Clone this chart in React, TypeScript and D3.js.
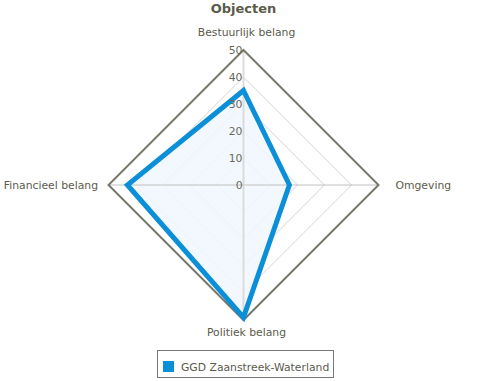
import React from "react";
import * as d3 from "d3";

const categories = ["Bestuurlijk belang", "Omgeving", "Politiek belang", "Financieel belang"];
const seriesName = "GGD Zaanstreek-Waterland";
const values = [35, 17, 49, 43];
const tickValues = [0, 10, 20, 30, 40, 50];
const title = "Objecten";

const W = 492;
const H = 381;
const cx = 243.5;
const cy = 185;
const R = 135;
const FONT = "'DejaVu Sans', Verdana, sans-serif";
const TEXT = "#5b5b4b";
const FS = 10.8;

export default function App() {
  const r = d3.scaleLinear().domain([0, 50]).range([0, R]);
  const n = categories.length;
  const angle = (i: number) => (i * 2 * Math.PI) / n;
  const pt = (i: number, v: number): [number, number] => [
    cx + r(v) * Math.sin(angle(i)),
    cy - r(v) * Math.cos(angle(i)),
  ];
  const line = d3.line<[number, number]>().curve(d3.curveLinearClosed);
  const gridPoly = (v: number) => line(categories.map((_, i) => pt(i, v))) as string;
  const dataPath = line(values.map((v, i) => pt(i, v))) as string;

  const labelPos = [
    { dx: 3, dy: -14, anchor: "middle" },
    { dx: 17, dy: 4, anchor: "start" },
    { dx: 3, dy: 16, anchor: "middle" },
    { dx: -10.5, dy: 4, anchor: "end" },
  ];

  return (
    <svg width={W} height={H} style={{ position: "absolute", left: 0, top: 0, fontFamily: FONT }}>
      <rect width={W} height={H} fill="#fff" />
      <text x={cx} y={13} textAnchor="middle" fontSize={13} fontWeight="bold" fill={TEXT}>
        {title}
      </text>
      {tickValues.slice(1, -1).map((t) => (
        <path key={t} d={gridPoly(t)} fill="none" stroke="#d4d4d4" strokeWidth={1} />
      ))}
      <path d={dataPath} fill="#f0f7fd" fillOpacity={0.85} stroke="none" />
      {categories.map((_, i) => {
        const [x, y] = pt(i, 50);
        return (
          <line key={i} x1={cx} y1={cy} x2={x} y2={y} stroke={i % 2 ? "#c0c0c0" : "#dcdcdc"} strokeWidth={i % 2 ? 1 : 2} />
        );
      })}
      <path d={gridPoly(50)} fill="none" stroke="#77776a" strokeWidth={2} />
      <path d={dataPath} fill="none" stroke="#0a8fd8" strokeWidth={5} strokeLinejoin="miter" />
      {tickValues.map((t) => (
        <text key={t} x={cx - 1} y={cy - r(t) + 4} textAnchor="end" fontSize={FS} fill="#6a6a5c">
          {t}
        </text>
      ))}
      {categories.map((c, i) => {
        const [x, y] = pt(i, 50);
        const p = labelPos[i];
        return (
          <text key={c} x={x + p.dx} y={y + p.dy} textAnchor={p.anchor} fontSize={FS} fill={TEXT}>
            {c}
          </text>
        );
      })}
      <g>
        <rect x={157.5} y={350.5} width={176} height={27} fill="#fff" stroke="#777" strokeWidth={1} />
        <rect x={163} y={361} width={11} height={11} fill="#0a8fd8" />
        <text x={181} y={371} fontSize={FS} fill={TEXT}>
          {seriesName}
        </text>
      </g>
    </svg>
  );
}
